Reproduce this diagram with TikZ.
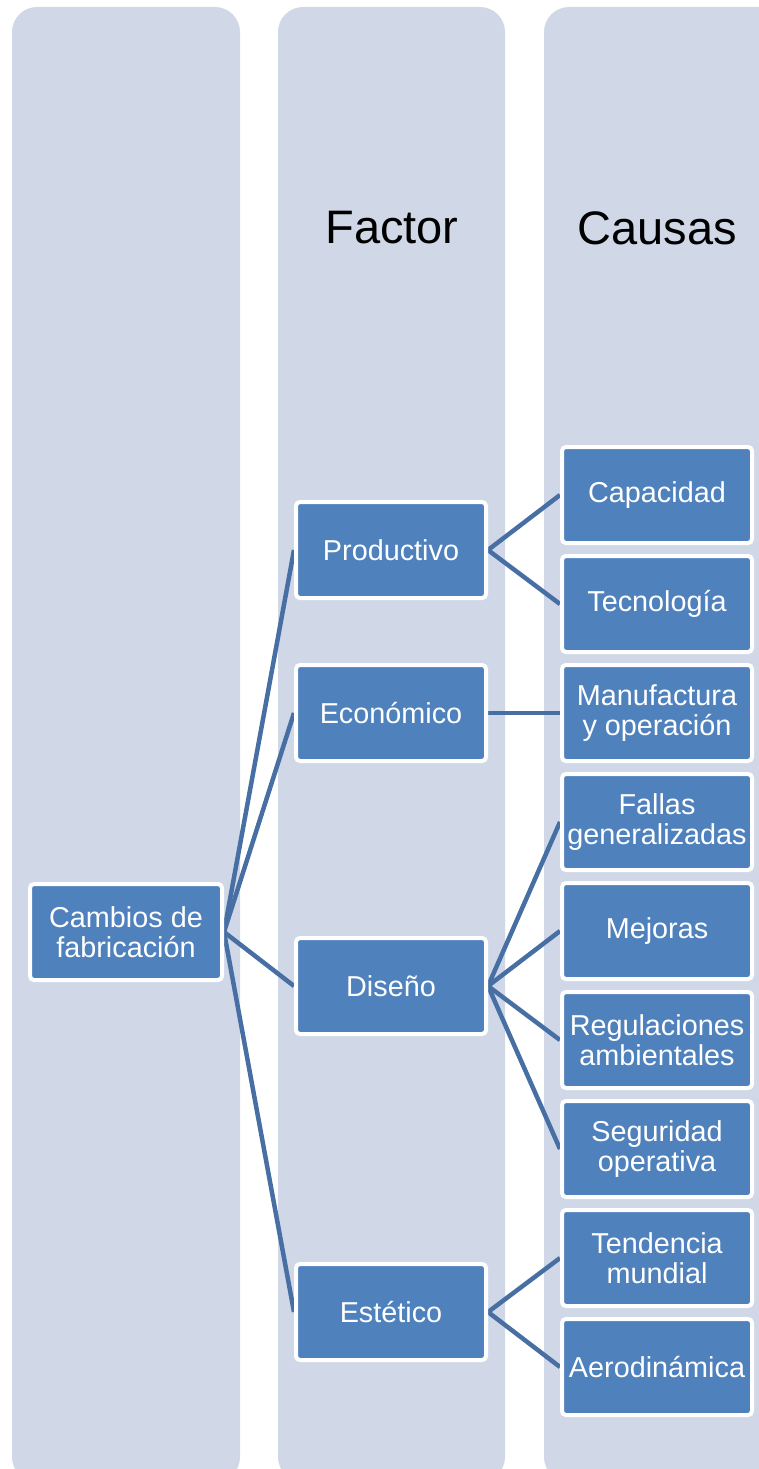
\documentclass[tikz,border=0pt]{standalone}
\usepackage{fontspec}
\setmainfont{Liberation Sans}
\usetikzlibrary{backgrounds}
\pgfdeclarelayer{links}
\pgfsetlayers{background,links,main}
\definecolor{colbg}{HTML}{D0D8E8}
\definecolor{boxfill}{HTML}{4F81BD}
\definecolor{linkc}{HTML}{476FA3}
\begin{document}
\begin{tikzpicture}[x=1pt,y=-1pt,
 box/.style={draw=white,line width=4pt,fill=boxfill,rounded corners=4pt,minimum width=190pt,minimum height=96pt,align=center,text=white,font=\fontsize{28.8}{30}\selectfont,inner sep=0pt},
 lane/.style={fill=colbg,rounded corners=25pt},
 link/.style={draw=linkc,line width=4.5pt},
 head/.style={font=\fontsize{47}{50}\selectfont,text=black,inner sep=0pt}]
\useasboundingbox (0,0) rectangle (758,1469);
\clip (0,0) rectangle (758,1469);
\begin{scope}[on background layer]
\fill[lane] (12,7) rectangle (240,1482);
\fill[lane] (278,7) rectangle (505,1482);
\fill[lane] (544,7) rectangle (790,1482);
\end{scope}
\node[head] (hfac) at (392,228) {Factor};
\node[head] (hcau) at (657,228) {Causas};
\node[box,minimum width=192pt] (cam) at (126,932) {Cambios de\\fabricación};
\node[box] (prod) at (391,550) {Productivo};
\node[box] (eco) at (391,713) {Económico};
\node[box] (dis) at (391,986) {Diseño};
\node[box] (est) at (391,1312) {Estético};
\node[box] (cap) at (657,495) {Capacidad};
\node[box] (tec) at (657,604) {Tecnología};
\node[box] (man) at (657,713) {Manufactura\\y operación};
\node[box] (fal) at (657,822) {Fallas\\generalizadas};
\node[box] (mej) at (657,931) {Mejoras};
\node[box] (reg) at (657,1040) {Regulaciones\\ambientales};
\node[box] (seg) at (657,1149) {Seguridad\\operativa};
\node[box] (ten) at (657,1258) {Tendencia\\mundial};
\node[box] (aer) at (657,1367) {Aerodinámica};
\begin{pgfonlayer}{links}
\foreach \t in {prod,eco,dis,est} \draw[link] (cam.east) -- (\t.west);
\foreach \t in {cap,tec} \draw[link] (prod.east) -- (\t.west);
\draw[link] (eco.east) -- (man.west);
\foreach \t in {fal,mej,reg,seg} \draw[link] (dis.east) -- (\t.west);
\foreach \t in {ten,aer} \draw[link] (est.east) -- (\t.west);
\end{pgfonlayer}
\end{tikzpicture}
\end{document}
